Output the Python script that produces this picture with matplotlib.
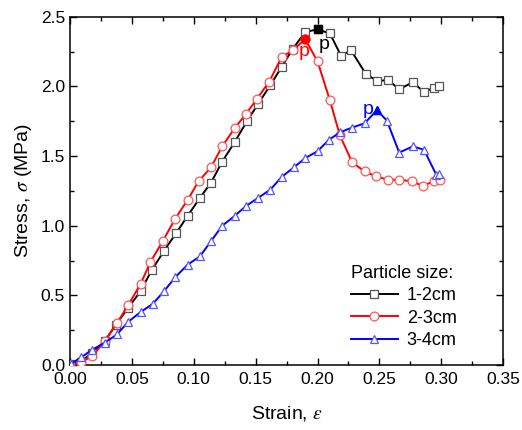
import matplotlib
matplotlib.use("Agg")
import matplotlib.pyplot as plt
from matplotlib.ticker import MultipleLocator

plt.rcParams["font.family"] = ["Liberation Sans", "DejaVu Sans"]
plt.rcParams["mathtext.fontset"] = "stix"

# 1-2cm
strain_12 = [0.000, 0.009, 0.018, 0.028, 0.037, 0.047, 0.057, 0.066, 0.076, 0.086,
             0.095, 0.105, 0.114, 0.123, 0.133, 0.143, 0.152, 0.162, 0.171, 0.180,
             0.190, 0.200, 0.210, 0.219, 0.227, 0.239, 0.248, 0.257, 0.266, 0.277,
             0.286, 0.294, 0.298]
stress_12 = [0.01, 0.025, 0.09, 0.17, 0.29, 0.41, 0.53, 0.68, 0.82, 0.95,
             1.07, 1.20, 1.31, 1.46, 1.60, 1.75, 1.875, 2.01, 2.14, 2.27,
             2.39, 2.41, 2.38, 2.22, 2.26, 2.09, 2.04, 2.045, 1.98, 2.03,
             1.96, 1.99, 2.00]
peak_12 = 21

# 2-3cm
strain_23 = [0.000, 0.009, 0.018, 0.028, 0.038, 0.047, 0.057, 0.065, 0.075, 0.085,
             0.095, 0.104, 0.114, 0.123, 0.133, 0.142, 0.151, 0.161, 0.171, 0.180,
             0.190, 0.200, 0.210, 0.218, 0.228, 0.238, 0.247, 0.257, 0.266, 0.276,
             0.285, 0.294, 0.299]
stress_23 = [0.00, 0.02, 0.065, 0.17, 0.30, 0.43, 0.58, 0.74, 0.89, 1.05,
             1.185, 1.32, 1.42, 1.57, 1.70, 1.80, 1.91, 2.035, 2.21, 2.26,
             2.34, 2.18, 1.90, 1.65, 1.455, 1.39, 1.355, 1.33, 1.33, 1.32,
             1.285, 1.32, 1.33]
peak_23 = 20

# 3-4cm
strain_34 = [0.001, 0.009, 0.018, 0.028, 0.038, 0.047, 0.057, 0.067, 0.076, 0.085,
             0.095, 0.105, 0.114, 0.123, 0.133, 0.142, 0.152, 0.162, 0.171, 0.181,
             0.190, 0.200, 0.209, 0.218, 0.228, 0.238, 0.248, 0.256, 0.266, 0.277,
             0.286, 0.296, 0.298]
stress_34 = [0.01, 0.055, 0.11, 0.16, 0.22, 0.31, 0.38, 0.44, 0.53, 0.63,
             0.72, 0.78, 0.89, 1.00, 1.07, 1.14, 1.20, 1.26, 1.35, 1.42,
             1.485, 1.535, 1.615, 1.67, 1.705, 1.735, 1.83, 1.755, 1.525, 1.57,
             1.545, 1.365, 1.37]
peak_34 = 26

series = [
    ("1-2cm", strain_12, stress_12, peak_12, "black", "#555555", "s"),
    ("2-3cm", strain_23, stress_23, peak_23, "red", "#ff5555", "o"),
    ("3-4cm", strain_34, stress_34, peak_34, "blue", "#5555ff", "^"),
]

fig = plt.figure(figsize=(5.22, 4.30), dpi=100)
ax = fig.add_axes([0.134, 0.151, 0.830, 0.810])

for label, x, y, pk, col, mcol, mk in series:
    ax.plot(x, y, color=col, linewidth=1.4, marker=mk, markersize=6.3,
            markerfacecolor="white", markeredgecolor=mcol, markeredgewidth=0.9,
            label=label, zorder=3)
    ax.plot(x[pk], y[pk], marker=mk, markersize=6.3, color=col, zorder=4)

ax.text(strain_12[peak_12] + 0.001, stress_12[peak_12] - 0.05, "p", color="black",
        fontsize=14, ha="left", va="top", zorder=5)
ax.text(strain_23[peak_23] - 0.001, stress_23[peak_23] - 0.03, "p", color="red",
        fontsize=14, ha="center", va="top", zorder=5)
ax.text(strain_34[peak_34] - 0.003, stress_34[peak_34] - 0.06, "p", color="blue",
        fontsize=14, ha="right", va="bottom", zorder=5)

ax.set_xlim(0, 0.35)
ax.set_ylim(0, 2.5)
ax.xaxis.set_major_locator(MultipleLocator(0.05))
ax.xaxis.set_minor_locator(MultipleLocator(0.025))
ax.yaxis.set_major_locator(MultipleLocator(0.5))
ax.yaxis.set_minor_locator(MultipleLocator(0.25))
ax.xaxis.set_major_formatter(plt.FormatStrFormatter("%.2f"))
ax.yaxis.set_major_formatter(plt.FormatStrFormatter("%.1f"))
ax.tick_params(which="both", direction="in", top=True, right=True, labelsize=12.5)
ax.tick_params(axis="x", which="major", pad=5)
ax.tick_params(which="major", length=5, width=1)
ax.tick_params(which="minor", length=3, width=1)
for s in ax.spines.values():
    s.set_linewidth(1.1)

ax.set_xlabel(r"Strain, $\varepsilon$", fontsize=14, labelpad=12)
ax.set_ylabel(r"Stress, $\sigma$ (MPa)", fontsize=14, labelpad=5)

leg = ax.legend(title="Particle size:", loc="lower right", frameon=False,
                fontsize=13, title_fontsize=13, handlelength=2.6,
                labelspacing=0.3, handletextpad=0.5,
                bbox_to_anchor=(0.93, -0.001))
leg._legend_box.align = "left"

fig.savefig("out.png", dpi=100)
